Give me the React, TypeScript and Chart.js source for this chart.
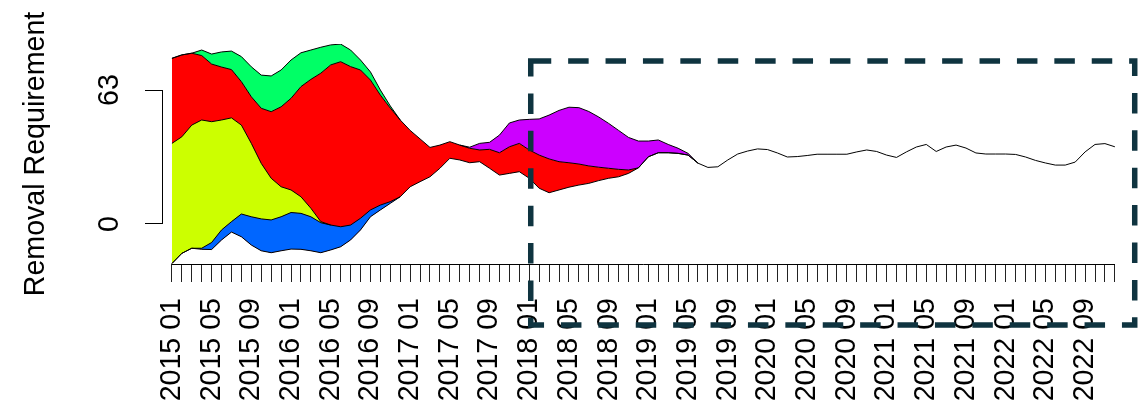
import { useEffect, useRef } from "react";
import { Chart, registerables } from "chart.js";

Chart.register(...registerables);

// ---- categories / tick labels ----
const years = [2015, 2016, 2017, 2018, 2019, 2020, 2021, 2022];
const monthNames = ["01", "02", "03", "04", "05", "06", "07", "08", "09", "10", "11", "12"];
const monthLabels: string[] = years.flatMap((y) => monthNames.map((m) => `${y} ${m}`));
const labelEvery = 4;
const yTickValues = [0, 63];
const yTitle = "Removal Requirement";

// ---- band boundaries (month index 0 = 2015 01) ----
// lower envelope, months 0..53
const bottomLine = [
  -18.6, -13.8, -11.4, -11.9, -12.0, -7.5, -3.8, -6.0, -9.9, -12.6,
  -13.5, -12.6, -11.8, -11.9, -12.6, -13.5, -12.2, -10.7, -7.5, -2.8,
  3.4, 6.6, 9.7, 12.8, 17.5, 19.9, 22.2, 26.2, 30.9, 30.1,
  28.8, 29.3, 26.2, 23.0, 23.8, 24.6, 21.5, 16.8, 14.7, 16.0,
  17.3, 18.3, 19.1, 20.4, 21.5, 22.2, 23.8, 26.4, 31.6, 33.5,
  33.5, 33.2, 32.4, 28.6,
];
// top of blue band, months 0..23
const blueTop = [
  -18.6, -13.8, -11.4, -11.4, -8.7, -2.8, 1.1, 4.7, 3.4, 2.4,
  1.9, 3.4, 5.4, 5.0, 3.4, 0.6, -0.5, -1.3, -0.5, 2.7,
  6.6, 8.9, 10.5, 12.8,
];
// top of lime band, months 0..16 (bottom = blueTop)
const limeTop = [
  37.9, 41.0, 46.5, 48.9, 48.1, 48.9, 49.9, 46.5, 37.9, 28.5,
  21.5, 17.5, 16.0, 12.8, 7.4, 1.1, -0.5,
];
// top of red band, months 0..53
const redTop = [
  77.9, 79.5, 80.3, 79.2, 75.2, 73.8, 72.6, 66.9, 59.8, 54.4,
  52.8, 55.1, 59.1, 64.6, 68.0, 70.9, 74.8, 76.3, 74.0, 72.4,
  67.7, 60.6, 54.5, 48.9, 44.0, 40.0, 36.0, 37.1, 38.7, 37.1,
  35.6, 34.8, 35.1, 33.5, 36.3, 37.9, 34.8, 32.4, 30.6, 29.3,
  28.8, 28.2, 27.3, 26.7, 26.2, 25.7, 25.4, 26.4, 31.6, 33.5,
  33.5, 33.2, 32.4, 28.6,
];
// top of green band, months 0..23
const greenTop = [
  77.9, 79.5, 80.3, 81.8, 79.9, 80.9, 81.3, 78.7, 73.9, 70.0,
  69.6, 72.4, 77.1, 80.5, 81.8, 83.1, 84.2, 84.6, 81.8, 77.1,
  71.5, 63.0, 55.5, 48.9,
];
// top of purple band, months 29..53
const purpleStart = 29;
const purpleTop = [
  37.1, 36.1, 37.9, 38.4, 41.8, 47.5, 48.9, 49.2, 49.4, 51.2,
  53.4, 54.9, 54.7, 52.9, 50.3, 47.3, 44.0, 40.7, 39.0, 39.0,
  39.5, 37.4, 35.6, 33.2, 28.6,
];
// single line, months 53..95
const mainStart = 53;
const mainLine = [
  28.6, 26.6, 26.9, 30.1, 32.9, 34.3, 35.3, 35.0, 33.4, 31.5,
  31.7, 32.2, 32.8, 32.8, 32.8, 32.8, 33.9, 34.8, 34.1, 32.4,
  31.3, 33.9, 36.2, 37.4, 34.1, 36.2, 37.1, 35.7, 33.4, 32.9,
  32.9, 32.9, 32.7, 31.5, 29.9, 28.7, 27.7, 27.7, 29.1, 33.9,
  37.4, 37.8, 36.3,
];

// highlighted window (in month-index / value units)
const boxX0 = 36.15;
const boxX1 = 97.0;
const boxYTop = 76.6;
const boxYBottom = -47.5;

const FONT = '"Liberation Sans", Arial, sans-serif';
const FS = 28.6;

const pts = (arr: number[], start = 0) => arr.map((v, k) => ({ x: k + start, y: v }));

const decorPlugin = {
  id: "decor",
  afterDraw(chart: any) {
    const { ctx, chartArea } = chart;
    const xs = chart.scales.x;
    const ys = chart.scales.y;
    ctx.save();
    ctx.strokeStyle = "#000";
    ctx.lineWidth = 1;
    // x axis line (first to last tick)
    const yb = Math.round(chartArea.bottom) + 0.5;
    ctx.beginPath();
    ctx.moveTo(xs.getPixelForValue(0), yb);
    ctx.lineTo(xs.getPixelForValue(monthLabels.length - 1), yb);
    ctx.stroke();
    // y axis line (first to last tick)
    const xl = Math.round(chartArea.left) + 0.5;
    ctx.beginPath();
    ctx.moveTo(xl, ys.getPixelForValue(yTickValues[yTickValues.length - 1]));
    ctx.lineTo(xl, ys.getPixelForValue(yTickValues[0]));
    ctx.stroke();
    // y tick labels (parallel to axis)
    ctx.fillStyle = "#000";
    ctx.font = `${FS}px ${FONT}`;
    ctx.textAlign = "center";
    ctx.textBaseline = "middle";
    for (const v of yTickValues) {
      ctx.save();
      ctx.translate(110, ys.getPixelForValue(v));
      ctx.rotate(-Math.PI / 2);
      ctx.fillText(String(v), 0, 0);
      ctx.restore();
    }
    // dashed window
    const x0 = xs.getPixelForValue(boxX0);
    const x1 = xs.getPixelForValue(boxX1);
    const y0 = ys.getPixelForValue(boxYTop);
    const y1 = ys.getPixelForValue(boxYBottom);
    ctx.strokeStyle = "#0f3440";
    ctx.lineWidth = 5.5;
    ctx.lineCap = "butt";
    ctx.lineJoin = "miter";
    ctx.setLineDash([20.5, 16.9]);
    ctx.beginPath();
    ctx.moveTo(x0, y0);
    ctx.lineTo(x1, y0);
    ctx.lineTo(x1, y1);
    ctx.lineTo(x0, y1);
    ctx.closePath();
    ctx.stroke();
    ctx.restore();
  },
};

export default function App() {
  const ref = useRef<HTMLCanvasElement | null>(null);
  useEffect(() => {
    if (!ref.current) return;
    const band = (data: any[], fill: any, color: string) => ({
      data,
      fill,
      backgroundColor: color,
      borderColor: "#000",
      borderWidth: 1,
      pointRadius: 0,
      tension: 0,
    });
    const chart = new Chart(ref.current, {
      type: "line",
      data: {
        datasets: [
          band(pts(bottomLine), false, "transparent"),
          band(pts(blueTop), 0, "#0066FF"),
          band(pts(limeTop), 1, "#CCFF00"),
          band(pts(redTop), 0, "#FF0000"),
          band(pts(greenTop), 3, "#00FF66"),
          band(pts(purpleTop, purpleStart), 3, "#CC00FF"),
          band(pts(mainLine, mainStart), false, "transparent"),
        ] as any,
      },
      options: {
        responsive: false,
        animation: false,
        devicePixelRatio: 1,
        events: [],
        layout: { padding: { top: 44, right: 18.2, left: 0, bottom: 0 } },
        plugins: {
          legend: { display: false },
          tooltip: { enabled: false },
          filler: { drawTime: "beforeDatasetsDraw" } as any,
        },
        scales: {
          x: {
            type: "linear",
            min: -1,
            max: 96,
            afterBuildTicks: (s: any) => {
              s.ticks = monthLabels.map((_, i) => ({ value: i }));
            },
            afterFit: (s: any) => {
              s.height = 145;
              s.paddingLeft = 0;
              s.paddingRight = 0;
            },
            border: { display: false },
            grid: { drawOnChartArea: false, drawTicks: true, tickLength: 18, color: "#222", lineWidth: 1 },
            ticks: {
              autoSkip: false,
              minRotation: 90,
              maxRotation: 90,
              padding: 16,
              color: "#000",
              font: { family: FONT, size: FS },
              callback: (v: any) => {
                const i = Math.round(Number(v));
                return i % labelEvery === 0 ? monthLabels[i] : "";
              },
            },
          },
          y: {
            type: "linear",
            min: -18.81,
            max: 84.63,
            afterBuildTicks: (s: any) => {
              s.ticks = yTickValues.map((v) => ({ value: v }));
            },
            afterFit: (s: any) => {
              s.width = 162;
              s.paddingTop = 0;
              s.paddingBottom = 0;
            },
            border: { display: false },
            grid: { drawOnChartArea: false, drawTicks: true, tickLength: 17, color: "#000", lineWidth: 1 },
            ticks: { display: false },
            title: {
              display: true,
              text: yTitle,
              color: "#000",
              font: { family: FONT, size: FS },
              padding: { top: 19, bottom: 0 },
            },
          },
        },
      },
      plugins: [decorPlugin],
    });
    return () => chart.destroy();
  }, []);
  return (
    <div style={{ position: "absolute", left: 0, top: 0, width: 1143, height: 409, background: "#fff" }}>
      <canvas ref={ref} width={1143} height={409} style={{ display: "block" }} />
    </div>
  );
}
